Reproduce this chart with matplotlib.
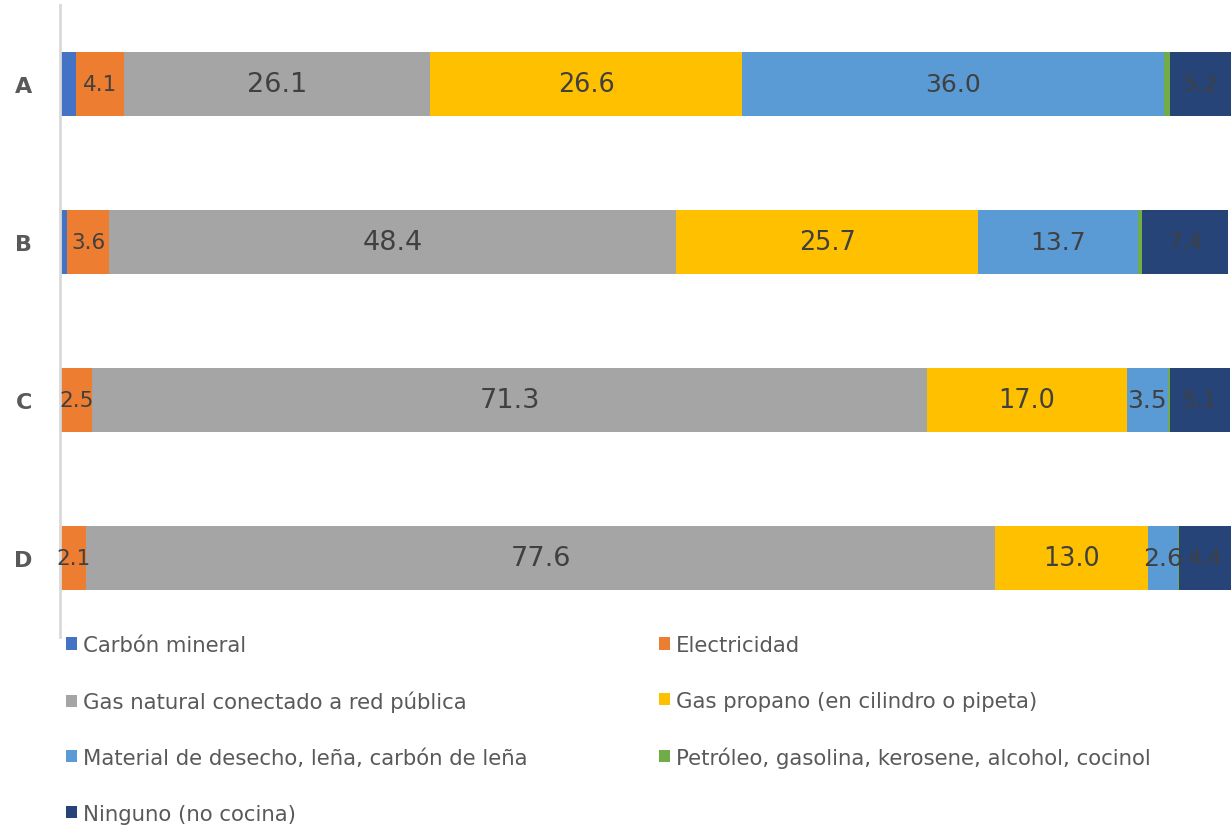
import numpy as np
import matplotlib.pyplot as plt
from matplotlib.patches import Patch

# categories (top to bottom) and fuel shares in percent
categories = ['A', 'B', 'C', 'D']
carbon_mineral = [1.4, 0.6, 0.2, 0.1]
electricidad = [4.1, 3.6, 2.5, 2.1]
gas_natural = [26.1, 48.4, 71.3, 77.6]
gas_propano = [26.6, 25.7, 17.0, 13.0]
material_desecho = [36.0, 13.7, 3.5, 2.6]
petroleo = [0.5, 0.3, 0.2, 0.1]
ninguno = [5.2, 7.4, 5.1, 4.4]

series_names = ['Carbón mineral', 'Electricidad', 'Gas natural conectado a red pública',
                'Gas propano (en cilindro o pipeta)', 'Material de desecho, leña, carbón de leña',
                'Petróleo, gasolina, kerosene, alcohol, cocinol', 'Ninguno (no cocina)']
series_values = [carbon_mineral, electricidad, gas_natural, gas_propano,
                 material_desecho, petroleo, ninguno]
colors = ['#4472C4', '#ED7D31', '#A5A5A5', '#FFC000', '#5B9BD5', '#70AD47', '#264478']
show_labels = [False, True, True, True, True, False, True]
label_sizes = [15, 15.5, 19.5, 18.4, 18, 15, 15.5]

fig = plt.figure(figsize=(12.32, 8.29), dpi=100)
ax = fig.add_axes([60 / 1232, 1 - 638 / 829, 1172 / 1232, 632 / 829])

y = np.arange(len(categories))
left = np.zeros(len(categories))
handles = []
for name, vals, col, show, fs in zip(series_names, series_values, colors, show_labels, label_sizes):
    vals = np.array(vals)
    bars = ax.barh(y, vals, left=left, height=0.405, color=col, label=name)
    if show:
        for b, v in zip(bars, vals):
            ax.text(b.get_x() + b.get_width() / 2, b.get_y() + b.get_height() / 2,
                    f'{v:.1f}', ha='center', va='center', fontsize=fs, color='#404040')
    handles.append(Patch(facecolor=col, label=name))
    left += vals

ax.set_xlim(0, 100)
ax.set_ylim(3.5, -0.5)
ax.set_yticks(y)
ax.set_yticklabels(categories, fontsize=16, fontweight='bold', color='#595959')
ax.tick_params(axis='y', length=0, pad=20)
ax.set_xticks([])
for s in ['top', 'right', 'bottom']:
    ax.spines[s].set_visible(False)
ax.spines['left'].set_color('#D9D9D9')
ax.spines['left'].set_linewidth(2)

# legend filled row by row like the original
order = [0, 2, 4, 6, 1, 3, 5]
fig.legend([handles[i] for i in order], [series_names[i] for i in order],
           loc='upper left', bbox_to_anchor=(66 / 1232, 1 - 636 / 829), ncol=2,
           frameon=False, fontsize=15.3, labelcolor='#595959',
           handlelength=0.5, handleheight=0.5, handletextpad=0.3,
           columnspacing=6.2, labelspacing=1.68, borderpad=0, borderaxespad=0)

fig.savefig('out.png', dpi=100)
